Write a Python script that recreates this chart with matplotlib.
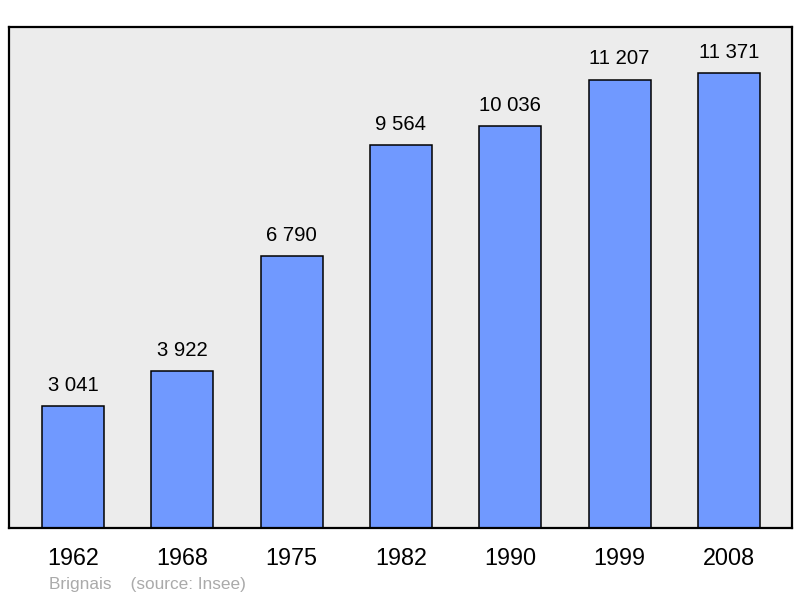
import matplotlib
matplotlib.use("Agg")
import matplotlib.pyplot as plt

plt.rcParams['font.family'] = ['Liberation Sans', 'DejaVu Sans']

# data
years = ["1962", "1968", "1975", "1982", "1990", "1999", "2008"]
population = [3041, 3922, 6790, 9564, 10036, 11207, 11371]
town = "Brignais"
source = "(source: Insee)"

def fmt(v):
	# french style thousands separator
	return "{:,}".format(v).replace(",", " ")

fig = plt.figure(figsize=(8, 5.98), dpi=100)
ax = fig.add_axes([9/800, 1-528/598, 783/800, 501/598])
ax.set_facecolor("#ececec")

x = list(range(len(years)))
ax.bar(x, population, width=0.567, color="#7099ff", edgecolor="black", linewidth=1.1, zorder=2)

for xi, v in zip(x, population):
	ax.annotate(fmt(v), (xi, v), xytext=(0, 8), textcoords="offset points",
		ha="center", va="bottom", fontsize=14.6)

ax.set_xlim(-0.585, 6.577)
ax.set_ylim(0, 12520)
ax.set_xticks(x)
ax.set_xticklabels(years, fontsize=16.8)
ax.tick_params(axis="x", length=0, pad=14)
ax.set_yticks([])
for s in ax.spines.values():
	s.set_linewidth(1.6)

fig.text(49/800, 1-584/598, town + "    " + source, color="#aaaaaa", fontsize=12.4, va="center", ha="left")

fig.savefig("out.png", dpi=100)
